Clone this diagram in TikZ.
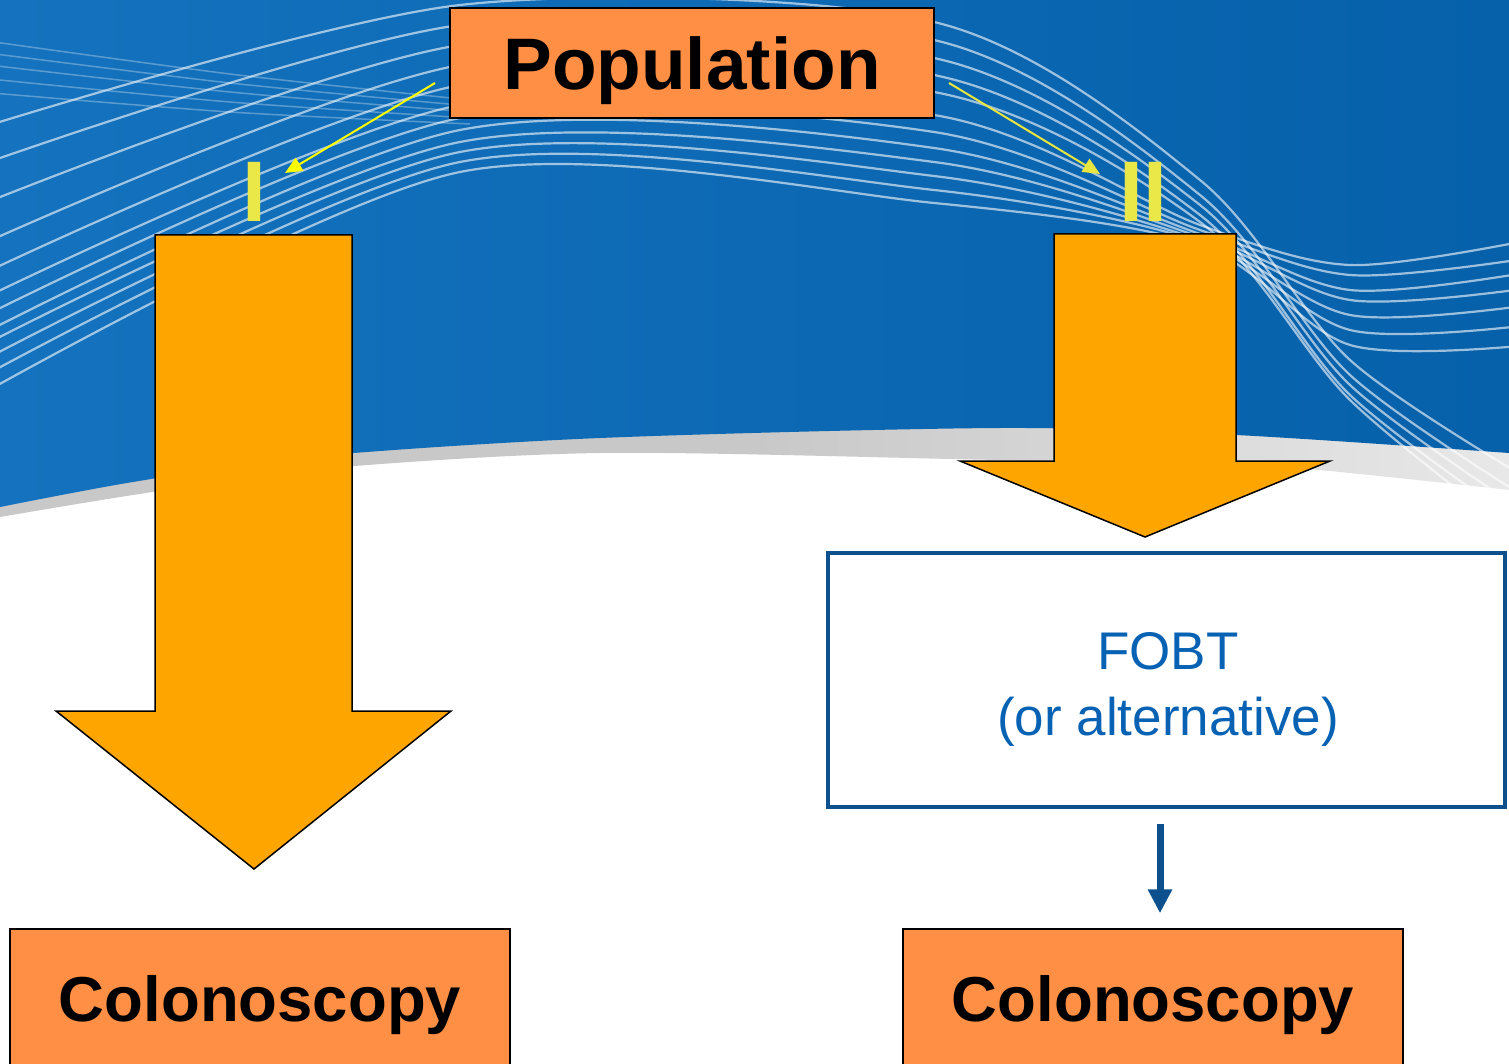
\documentclass[tikz,border=0pt]{standalone}
\usepackage{fontspec}
\setmainfont{Liberation Sans}
\usetikzlibrary{arrows.meta}
\definecolor{bgL}{RGB}{20,114,190}
\definecolor{bgR}{RGB}{6,96,170}
\definecolor{band}{RGB}{200,200,200}
\definecolor{bandR}{RGB}{232,232,232}
\definecolor{boxor}{RGB}{255,143,68}
\definecolor{arror}{RGB}{255,165,0}
\definecolor{ylab}{RGB}{234,232,72}
\definecolor{yarrA}{RGB}{255,255,0}
\definecolor{yarrB}{RGB}{232,228,64}
\definecolor{fobtb}{RGB}{12,80,142}
\definecolor{fobtt}{RGB}{8,98,180}
\begin{document}
\begin{tikzpicture}[x=1pt,y=-1pt,
  orbox/.style={draw=black, line width=1.5pt, fill=boxor, inner sep=0pt},
  bigarrow/.style={draw=black, line width=1.5pt, fill=arror, line join=miter},
  wline/.style={white, opacity=0.6, line width=2.2pt},
  wfaint/.style={white, opacity=0.3, line width=1.5pt},
  ylabel/.style={text=ylab, inner sep=0pt, font=\bfseries\fontsize{86pt}{90pt}\selectfont},
  yarrow/.style={line width=2pt, -{Triangle[length=17pt,width=15pt]}},
  fobttext/.style={text=fobtt, inner sep=0pt, font=\fontsize{53pt}{66pt}\selectfont},
  barrow/.style={draw=fobtb, line width=7pt, -{Triangle[length=24pt,width=23pt]}}]
\useasboundingbox (0,0) rectangle (1509,1064);
\clip (0,0) rectangle (1509,1064);
\fill[white] (0,0) rectangle (1509,1064);
% grey band
\shade[left color=band, right color=bandR, middle color=band]
  (0,0) -- (1509,0) -- plot[smooth] coordinates {(1509,490) (1236,463) (1000,460) (600,453) (307,470) (133,495) (0,517)} -- cycle;
% blue field
\shade[left color=bgL, right color=bgR]
  (0,0) -- (1509,0) -- plot[smooth] coordinates {(1509,453) (1236,435) (1000,428) (600,438) (307,457) (133,482) (0,507)} -- cycle;
% white wave lines
\foreach \a/\b/\c/\d/\e/\f in {
  128/5/22/180/360/480, 165/25/40/195/375/500, 205/45/58/205/385/515,
  245/65/75/215/395/530, 275/85/92/222/400/545,
  300/105/115/225/265/240, 318/118/132/230/275/258, 335/130/148/234/290/272,
  347/142/162/237/300/288, 362/152/176/240/315/305, 378/162/190/242/330/325,
  395/172/203/245/345/345}
  \draw[wline] plot[smooth] coordinates {(-20,\a) (460,\b) (934,\c) (1200,\d) (1350,\e) (1530,\f)};
\foreach \a/\b in {40/100, 52/106, 64/112, 78/118, 92/124}
  \draw[wfaint] plot[smooth] coordinates {(-20,\a) (230,{(\a+\b)/2+4}) (470,\b)};
% big block arrows
\draw[bigarrow] (155,235) -- (352,235) -- (352,711) -- (451,711) -- (254,869) -- (56,711) -- (155,711) -- cycle;
\draw[bigarrow] (1054,234) -- (1236,234) -- (1236,461) -- (1330,461) -- (1145,537) -- (960,461) -- (1054,461) -- cycle;
% population
\node[orbox, minimum width=484pt, minimum height=110pt, text height=52.5pt, text depth=0pt,
      font=\bfseries\fontsize{73pt}{80pt}\selectfont] (pop) at (692,63) {Population};
% labels I and II
\node[ylabel, anchor=base] (lI) at (254.5,222) {I};
\node[ylabel, anchor=base] (lII) at (1143,222) {II};
\coordinate (ys1) at (435,83);
\coordinate (ye1) at (285,173);
\coordinate (ys2) at (949,83);
\coordinate (ye2) at (1100,174);
\draw[yarrow, draw=yarrA, fill=yarrA] (ys1) -- (ye1);
\draw[yarrow, draw=yarrB, fill=yarrB] (ys2) -- (ye2);
% FOBT
\node[draw=fobtb, line width=4pt, minimum width=677pt, minimum height=254pt, inner sep=0pt] (fobt) at (1166.5,680) {};
\node[fobttext, anchor=base] (fobt1) at (1168,669) {FOBT};
\node[fobttext, anchor=base] (fobt2) at (1168,735) {(or alternative)};
% colonoscopy boxes
\node[orbox, minimum width=500pt, minimum height=139pt, text height=45.5pt, text depth=0pt,
      font=\bfseries\fontsize{63.5pt}{70pt}\selectfont] (colA) at (260,998.5) {Colonoscopy};
\node[orbox, minimum width=500pt, minimum height=139pt, text height=45.5pt, text depth=0pt,
      font=\bfseries\fontsize{63.5pt}{70pt}\selectfont] (colB) at (1153,998.5) {Colonoscopy};
% small arrow
\draw[barrow, shorten <=15pt, shorten >=15pt] ([xshift=-6.5pt]fobt.south) -- ([xshift=-6.5pt]fobt.south |- colB.north);
\end{tikzpicture}
\end{document}
